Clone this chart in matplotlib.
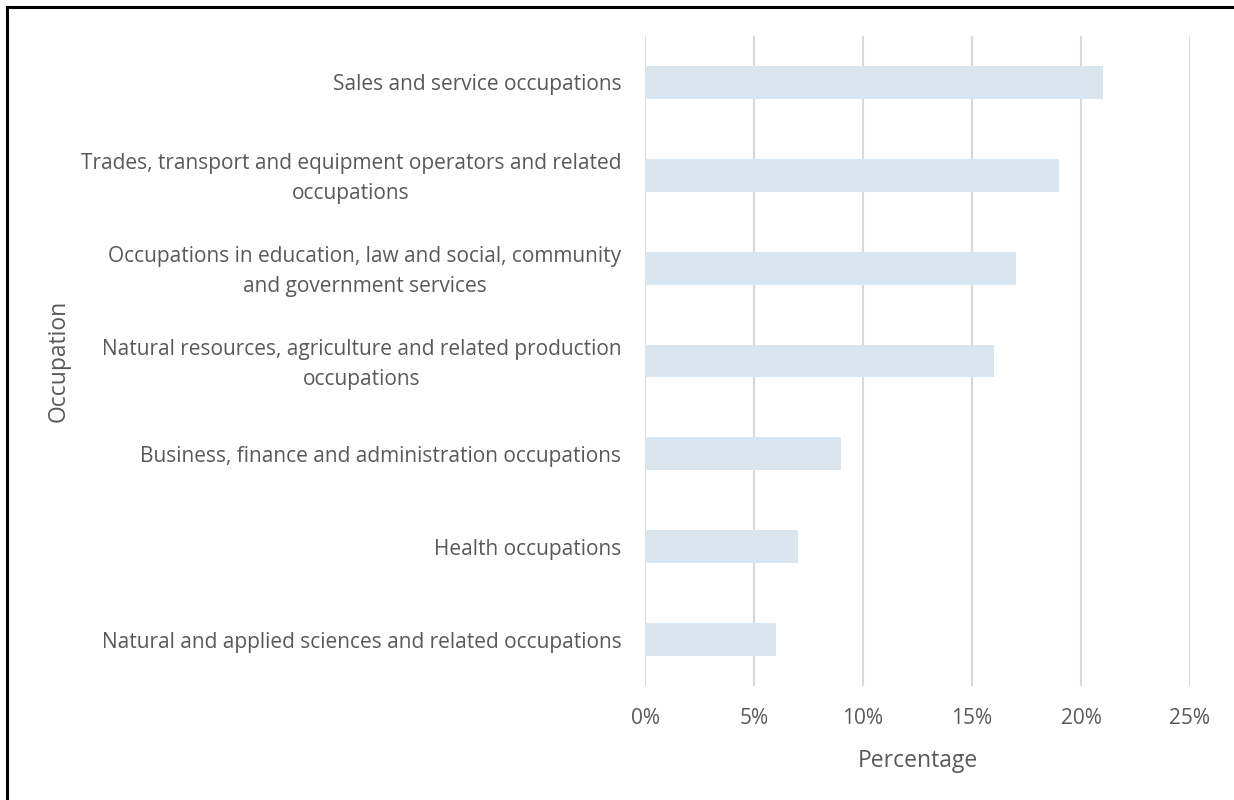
import matplotlib
matplotlib.use("Agg")
import matplotlib.pyplot as plt
from matplotlib.lines import Line2D
from matplotlib.ticker import FuncFormatter
from matplotlib.transforms import offset_copy

occupations = [
    "Sales and service occupations",
    "Trades, transport and equipment operators and related\noccupations",
    "Occupations in education, law and social, community\nand government services",
    "Natural resources, agriculture and related production\noccupations",
    "Business, finance and administration occupations",
    "Health occupations",
    "Natural and applied sciences and related occupations",
]
percentages = [21, 19, 17, 16, 9, 7, 6]
xticks = [0, 5, 10, 15, 20, 25]

plt.rcParams['font.family'] = ['Open Sans', 'DejaVu Sans']
text_color = "#595959"

fig = plt.figure(figsize=(12.34, 8), dpi=100)
ax = fig.add_axes([645 / 1234, 1 - 686 / 800, 545 / 1234, 650 / 800])

ypos = list(range(len(occupations)))
ax.barh(ypos, percentages, height=0.355, color="#D9E5EF", zorder=2)
ax.set_ylim(len(occupations) - 0.5, -0.5)
ax.set_xlim(0, 25)
ax.set_xticks(xticks)
ax.xaxis.set_major_formatter(FuncFormatter(lambda v, p: f"{v:.0f}%"))
ax.set_yticks(ypos)
ax.set_yticklabels(occupations, multialignment="center", linespacing=1.6)

ax.grid(axis="x", color="#D9D9D9", linewidth=1.5, zorder=0)
ax.grid(axis="y", visible=False)
for s in ax.spines.values():
    s.set_visible(False)
ax.tick_params(axis="both", length=0, labelsize=15, labelcolor=text_color)
ax.tick_params(axis="y", pad=17)
ax.tick_params(axis="x", pad=16)

# nudge the two-line labels up a little so they sit centred on the bar
for lbl in ax.get_yticklabels():
    if "\n" in lbl.get_text():
        lbl.set_transform(offset_copy(lbl.get_transform(), fig=fig, x=0, y=4, units="dots"))

ax.set_xlabel("Percentage", fontsize=16.5, color=text_color, labelpad=14)
ax.set_ylabel("Occupation", fontsize=16.5, color=text_color)
ax.yaxis.set_label_coords(71 / 1234, 1 - 361 / 800, transform=fig.transFigure)

# frame around the picture (only left and top visible)
fig.add_artist(Line2D([7 / 1234, 7 / 1234], [0, 1 - 7 / 800], color="black", linewidth=2.2))
fig.add_artist(Line2D([7 / 1234, 1], [1 - 7 / 800, 1 - 7 / 800], color="black", linewidth=2.2))

fig.savefig("out.png", dpi=100)
